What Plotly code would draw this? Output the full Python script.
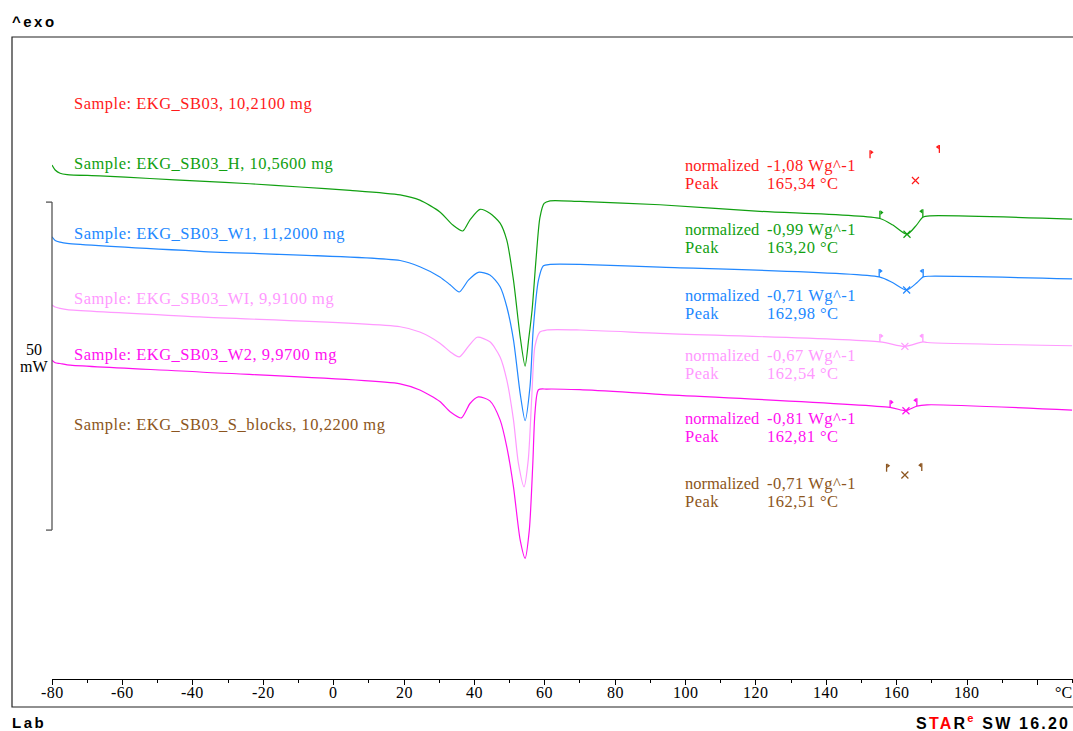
import plotly.graph_objects as go

# ---------------- figure geometry (layout only) ----------------
W, H = 1073, 731
ML, MR, MT, MB = 52, 0, 37, 52
X_RANGE = [-80.0, 210.06]
Y_RANGE = [0.0, 97.87]

def xp(px):
    return (px - ML) / (W - ML - MR)

def yp(py):
    return (H - MB - py) / (H - MT - MB)

# ---------------- data ----------------
series_names = ["EKG_SB03", "EKG_SB03_H", "EKG_SB03_W1", "EKG_SB03_WI", "EKG_SB03_W2", "EKG_SB03_S_blocks"]
sample_mass = ["10,2100", "10,5600", "11,2000", "9,9100", "9,9700", "10,2200"]
series_colors = ["#FF1A1A", "#11A011", "#2288FF", "#FF99FF", "#FF10F0", "#8C5520"]
normalized_vals = ["-1,08", "-0,99", "-0,71", "-0,67", "-0,81", "-0,71"]
peak_vals = ["165,34", "163,20", "162,98", "162,54", "162,81", "162,51"]

# curves: temperature (°C) and heat flow (mW, arbitrary offset, exo up)
h_T = [-80.0, -79.1, -77.7, -75.7, -66.4, -52.2, -38.0, -23.8, -9.5, 4.7, 18.9, 24.5, 30.2, 33.9,
       36.7, 38.75, 41.6, 44.4, 47.3, 49.2, 51.1, 53.0, 54.4, 55.4, 56.4, 57.5, 58.6, 59.8, 61.5,
       70.0, 92.7, 121.1, 155.2, 158.9, 162.9, 165.6, 167.4, 169.4, 209.8]
h_mW = [78.35, 77.6, 77.1, 76.9, 76.7, 76.3, 75.9, 75.5, 75.0, 74.5, 73.8, 73.0, 71.2, 69.2,
        68.3, 70.0, 71.6, 71.0, 69.5, 66.9, 60.8, 52.2, 47.7, 51.7, 56.3, 63.9, 70.3, 72.5, 72.9,
        72.8, 72.3, 71.3, 70.2, 69.2, 67.8, 69.2, 70.4, 70.6, 70.1]

w1_T = [-80.0, -79.1, -77.7, -75.7, -38.0, 18.9, 24.5, 30.2, 33.1, 35.7, 38.3, 41.1, 44.4, 47.3,
        49.2, 51.1, 53.0, 54.4, 55.8, 56.7, 58.2, 59.6, 61.5, 70.0, 92.7, 155.0, 158.9, 162.8,
        165.7, 167.5, 169.4, 209.8]
w1_mW = [67.4, 66.85, 66.6, 66.4, 65.2, 63.8, 62.85, 61.3, 60.1, 59.0, 60.8, 62.0, 61.6, 59.8,
         56.75, 51.7, 43.55, 39.4, 44.6, 53.2, 60.8, 63.0, 63.2, 63.2, 62.8, 61.3, 60.4, 59.3,
         60.4, 61.3, 61.4, 61.0]

wi_T = [-80.0, -79.1, -77.7, -75.7, -38.0, 18.9, 24.5, 30.2, 33.1, 35.7, 38.3, 40.8, 44.4, 47.3,
        49.2, 51.1, 52.5, 54.1, 55.3, 56.3, 57.2, 58.6, 60.5, 70.0, 92.7, 155.2, 162.3, 167.4,
        168.6, 209.8]
wi_mW = [57.0, 56.7, 56.5, 56.3, 55.2, 53.7, 52.9, 51.2, 49.9, 49.1, 50.7, 52.1, 51.4, 49.1,
         45.6, 39.5, 32.9, 29.3, 33.4, 43.0, 50.7, 52.9, 53.2, 53.2, 52.7, 51.4, 50.7, 51.4,
         51.3, 50.8]

w2_T = [-80.0, -79.1, -77.7, -75.7, -38.0, 18.9, 24.5, 30.2, 33.1, 36.3, 38.75, 41.1, 44.4, 47.3,
        49.2, 51.1, 53.0, 54.4, 55.6, 56.6, 57.2, 58.2, 60.5, 70.0, 92.7, 158.1, 162.6, 165.7,
        168.6, 209.8]
w2_mW = [48.6, 48.2, 48.1, 47.9, 46.8, 45.0, 44.05, 42.3, 40.75, 39.8, 42.0, 43.0, 42.4, 39.5,
         35.4, 29.3, 21.2, 18.4, 22.7, 32.9, 40.5, 44.1, 44.2, 44.1, 43.4, 41.4, 40.9, 41.6,
         41.8, 41.0]

curves = [None, (h_T, h_mW), (w1_T, w1_mW), (wi_T, wi_mW), (w2_T, w2_mW), None]

# integration limits (flags) and peak marks, per series
onset_T = [152.4, 155.2, 155.0, 155.2, 158.1, 157.1]
onset_mW = [79.4, 70.2, 61.3, 51.4, 41.3, 31.6]
endset_T = [172.1, 167.4, 167.5, 167.4, 165.7, 167.1]
endset_mW = [80.2, 70.4, 61.3, 51.4, 41.6, 31.7]
peak_T = [165.3, 162.9, 162.8, 162.3, 162.6, 162.3]
peak_mW = [76.0, 67.8, 59.3, 50.7, 40.9, 31.1]

x_tickvals = [-80, -60, -40, -20, 0, 20, 40, 60, 80, 100, 120, 140, 160, 180, 200]
x_ticklabels = ["-80", "-60", "-40", "-20", "0", "20", "40", "60", "80", "100", "120", "140", "160", "180"]
x_unit = "°C"

scale_bar_mW = 50
scale_bar_unit = "mW"

# ---------------- figure ----------------
SERIF = "Liberation Serif"
SANS = "Liberation Sans"
LS = "letter-spacing:0.5px"
fig = go.Figure()

STEM = 1.2
for i, c in enumerate(curves):
    col = series_colors[i]
    if c is not None:
        fig.add_trace(go.Scatter(x=c[0], y=c[1], mode="lines",
                                 line=dict(color=col, width=1.2, shape="spline", smoothing=0.7),
                                 hoverinfo="skip", showlegend=False))
    # flag stems
    fig.add_trace(go.Scatter(
        x=[onset_T[i], onset_T[i], None, endset_T[i], endset_T[i]],
        y=[onset_mW[i], onset_mW[i] + STEM, None, endset_mW[i], endset_mW[i] + STEM],
        mode="lines", line=dict(color=col, width=1.3), hoverinfo="skip", showlegend=False))
    # flag heads
    fig.add_trace(go.Scatter(x=[onset_T[i] + 0.45], y=[onset_mW[i] + STEM - 0.3], mode="markers",
                             marker=dict(symbol="triangle-right", size=4, color=col),
                             hoverinfo="skip", showlegend=False))
    fig.add_trace(go.Scatter(x=[endset_T[i] - 0.45], y=[endset_mW[i] + STEM - 0.3], mode="markers",
                             marker=dict(symbol="triangle-left", size=4, color=col),
                             hoverinfo="skip", showlegend=False))
    # peak mark
    fig.add_trace(go.Scatter(x=[peak_T[i]], y=[peak_mW[i]], mode="markers",
                             marker=dict(symbol="x-thin", size=7, line=dict(color=col, width=1.2)),
                             hoverinfo="skip", showlegend=False))

def ann(x, y, text, size, color, family=SERIF, xanchor="left", xref="paper", yref="paper"):
    return dict(x=x, y=y, xref=xref, yref=yref, xanchor=xanchor, yanchor="middle",
                showarrow=False, text=text, borderpad=0,
                font=dict(family=family, size=size, color=color))

annotations = []
label_y = [103, 164, 233, 298, 354, 424]
res_y = [166, 229, 295, 355, 418, 483]
for i in range(len(series_names)):
    col = series_colors[i]
    annotations.append(ann(xp(73), yp(label_y[i]),
                           f"<span style='{LS}'>Sample: {series_names[i]}, {sample_mass[i]} mg</span>", 16.5, col))
    annotations.append(ann(xp(684), yp(res_y[i]), "normalized", 16.5, col))
    annotations.append(ann(xp(766), yp(res_y[i]), f"<span style='{LS}'>{normalized_vals[i]} Wg^-1</span>", 16.5, col))
    annotations.append(ann(xp(684), yp(res_y[i] + 18), f"<span style='{LS}'>Peak</span>", 16.5, col))
    annotations.append(ann(xp(766), yp(res_y[i] + 18), f"<span style='{LS}'>{peak_vals[i]} °C</span>", 16.5, col))

# x tick labels
for v, t in zip(x_tickvals, x_ticklabels):
    annotations.append(ann(v, yp(693), f"<span style='{LS}'>{t}</span>", 16, "#000",
                           xanchor="center", xref="x"))
annotations.append(ann(xp(1063), yp(693), x_unit, 16, "#000", xanchor="center"))

# scale bar
sb_top = 72.7
sb_bot = sb_top - scale_bar_mW
annotations.append(ann(xp(34), yp(349), str(scale_bar_mW), 16, "#000", xanchor="center"))
annotations.append(ann(xp(34), yp(366), scale_bar_unit, 16, "#000", xanchor="center"))

# corner labels
annotations.append(ann(xp(11), yp(22), "<b><span style='letter-spacing:2.5px'>^exo</span></b>", 15, "#000", family=SANS))
annotations.append(ann(xp(11), yp(722), "<b><span style='letter-spacing:2.5px'>Lab</span></b>", 15, "#000", family=SANS))
annotations.append(ann(xp(915), yp(722),
                       "<b><span style='letter-spacing:2.2px'>S<span style='color:#FF0000'>TA</span>R"
                       "<sup><span style='color:#FF0000'>e</span></sup> SW 16.20</span></b>",
                       16, "#000", family=SANS))

shapes = [
    # frame
    dict(type="rect", xref="paper", yref="paper", x0=xp(12), x1=xp(1090), y0=yp(707), y1=yp(37),
         line=dict(color="#222", width=1.2), fillcolor="rgba(0,0,0,0)", layer="above"),
    # scale bar bracket
    dict(type="line", xref="paper", yref="y", x0=xp(52), x1=xp(52), y0=sb_bot, y1=sb_top,
         line=dict(color="#555", width=1.3)),
    dict(type="line", xref="paper", yref="y", x0=xp(46), x1=xp(52), y0=sb_top, y1=sb_top,
         line=dict(color="#555", width=1.3)),
    dict(type="line", xref="paper", yref="y", x0=xp(46), x1=xp(52), y0=sb_bot, y1=sb_bot,
         line=dict(color="#555", width=1.3)),
]

fig.update_layout(
    width=W, height=H,
    margin=dict(l=ML, r=MR, t=MT, b=MB, pad=0),
    paper_bgcolor="white", plot_bgcolor="white",
    showlegend=False,
    annotations=annotations,
    shapes=shapes,
    xaxis=dict(range=X_RANGE, showgrid=False, zeroline=False, showline=True, linecolor="#000",
               linewidth=1.2, ticks="outside", ticklen=5, tickwidth=1, tickcolor="#000",
               tickvals=x_tickvals, showticklabels=False,
               minor=dict(dtick=10, tick0=-80, ticks="outside", ticklen=3, tickcolor="#000", tickwidth=1),
               fixedrange=True),
    yaxis=dict(range=Y_RANGE, visible=False, fixedrange=True),
)

fig.write_html("out.html", config={"displayModeBar": False},
               post_script="document.body.style.margin='0px';document.body.style.overflow='hidden';")
